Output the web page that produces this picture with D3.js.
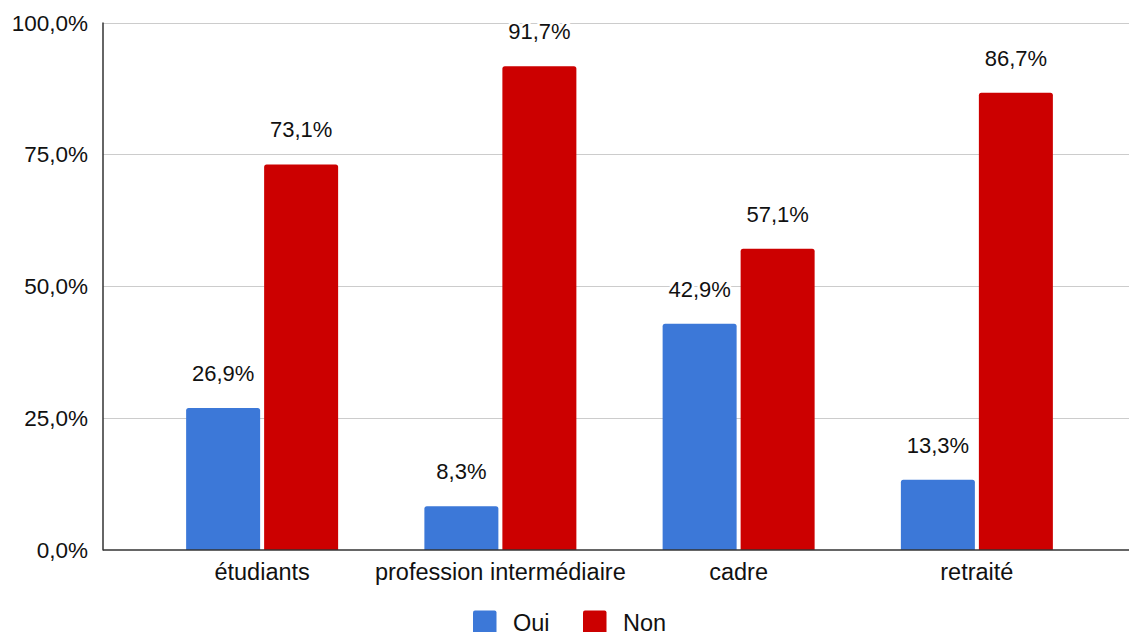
<!DOCTYPE html>
<html>
<head>
<meta charset="utf-8">
<script src="https://cdn.jsdelivr.net/npm/d3@7"></script>
<style>
  html, body { margin: 0; padding: 0; background: #fff; }
  svg { display: block; font-family: "Liberation Sans", Arial, sans-serif; }
</style>
</head>
<body>
<svg id="chart" width="1129" height="632"></svg>
<script>
// --- data ---
const categories = ['étudiants', 'profession intermédiaire', 'cadre', 'retraité'];
const seriesNames = ['Oui', 'Non'];
const ouiValues = [26.9, 8.3, 42.9, 13.3];
const nonValues = [73.1, 91.7, 57.1, 86.7];
const yTicks = [0, 25, 50, 75, 100];

const colors = { Oui: '#3c78d8', Non: '#cc0000' };
const fmt = v => v.toFixed(1).replace('.', ',') + '%';

const svg = d3.select('#chart');
const W = 1129;

// --- scales ---
const axisLeft = 103;
const y = d3.scaleLinear().domain([0, 100]).range([550, 22.5]);
const x0 = d3.scaleBand().domain(categories).range([143, 1096]).padding(0);
const x1 = d3.scaleBand().domain(seriesNames).range([-76, 76]).paddingInner(4 / 78);

const rows = categories.map((c, i) => ({ cat: c, Oui: ouiValues[i], Non: nonValues[i] }));

// --- gridlines ---
svg.append('g')
  .selectAll('line')
  .data(yTicks.filter(t => t > 0))
  .join('line')
  .attr('x1', axisLeft).attr('x2', W)
  .attr('y1', d => Math.round(y(d)) + 0.5).attr('y2', d => Math.round(y(d)) + 0.5)
  .attr('stroke', '#cccccc').attr('stroke-width', 1);

// y tick labels
svg.append('g')
  .selectAll('text')
  .data(yTicks)
  .join('text')
  .attr('x', 88)
  .attr('y', d => y(d))
  .attr('dy', '0.36em')
  .attr('text-anchor', 'end')
  .attr('font-size', 22.5)
  .attr('fill', '#111')
  .text(fmt);

// rounded-top bar path
function barPath(x, yTop, w, h, r) {
  r = Math.min(r, h, w / 2);
  return `M${x},${yTop + h}V${yTop + r}Q${x},${yTop} ${x + r},${yTop}` +
    `H${x + w - r}Q${x + w},${yTop} ${x + w},${yTop + r}V${yTop + h}Z`;
}

// --- bars ---
const groups = svg.append('g')
  .selectAll('g')
  .data(rows)
  .join('g')
  .attr('transform', d => `translate(${x0(d.cat) + x0.bandwidth() / 2},0)`);

groups.selectAll('path')
  .data(d => seriesNames.map(s => ({ s, v: d[s] })))
  .join('path')
  .attr('d', d => barPath(x1(d.s), y(d.v), x1.bandwidth(), y(0) - y(d.v), 2.5))
  .attr('fill', d => colors[d.s]);

groups.selectAll('text')
  .data(d => seriesNames.map(s => ({ s, v: d[s] })))
  .join('text')
  .attr('x', d => x1(d.s) + x1.bandwidth() / 2)
  .attr('y', d => y(d.v) - 27)
  .attr('text-anchor', 'middle')
  .attr('font-size', 22)
  .attr('fill', '#111')
  .attr('stroke', '#fff').attr('stroke-width', 5)
  .attr('paint-order', 'stroke')
  .text(d => fmt(d.v));

// --- axes lines ---
svg.append('line')
  .attr('x1', axisLeft).attr('x2', axisLeft)
  .attr('y1', y(100)).attr('y2', y(0) + 0.5)
  .attr('stroke', '#333').attr('stroke-width', 1.5);
svg.append('line')
  .attr('x1', axisLeft).attr('x2', W)
  .attr('y1', y(0)).attr('y2', y(0))
  .attr('stroke', '#333').attr('stroke-width', 1.5);

// x labels
svg.append('g')
  .selectAll('text')
  .data(categories)
  .join('text')
  .attr('x', d => x0(d) + x0.bandwidth() / 2)
  .attr('y', 580)
  .attr('text-anchor', 'middle')
  .attr('font-size', 23.5)
  .attr('fill', '#111')
  .text(d => d);

// --- legend ---
const legend = svg.append('g');
const legendX = [473, 583];
seriesNames.forEach((s, i) => {
  legend.append('rect')
    .attr('x', legendX[i]).attr('y', 610.5)
    .attr('width', 23.5).attr('height', 23.5)
    .attr('rx', 2)
    .attr('fill', colors[s]);
  legend.append('text')
    .attr('x', legendX[i] + 40).attr('y', 631)
    .attr('font-size', 23.5)
    .attr('fill', '#111')
    .text(s);
});
</script>
</body>
</html>
